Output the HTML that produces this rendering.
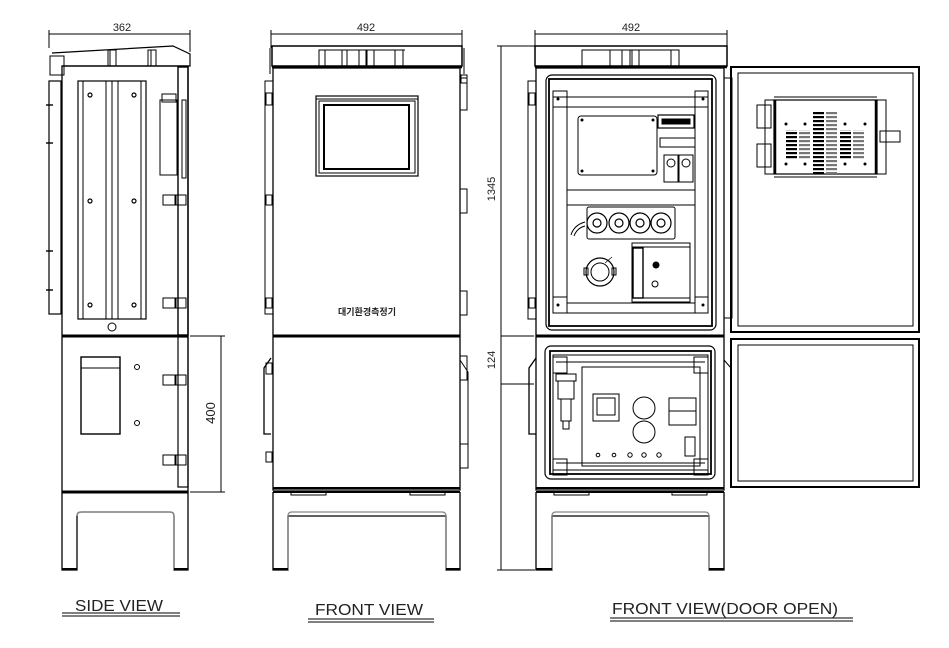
<!DOCTYPE html>
<html><head><meta charset="utf-8"><style>
html,body{margin:0;padding:0;background:#fff;width:949px;height:648px;overflow:hidden}
svg{display:block}
text{font-family:"Liberation Sans","Noto Sans CJK KR",sans-serif;fill:#222}
</style></head><body>
<svg width="949" height="648" viewBox="0 0 949 648" xmlns="http://www.w3.org/2000/svg" fill="none" stroke="#000" stroke-width="1">
<defs>
<pattern id="vent" width="4" height="4" patternUnits="userSpaceOnUse"><rect width="4" height="2.2" fill="#000" stroke="none"/></pattern>
<pattern id="vent2" width="4" height="4" patternUnits="userSpaceOnUse"><rect width="4" height="2.2" fill="#777" stroke="none"/></pattern>
</defs>

<!-- ================= SIDE VIEW ================= -->
<text x="122" y="31" font-size="11" text-anchor="middle" stroke="none">362</text>
<line x1="49" y1="34" x2="190" y2="34"/><line x1="49" y1="30" x2="49" y2="48"/><line x1="190" y1="30" x2="190" y2="52"/>
<!-- cap -->
<path d="M52 53 L173 46 L190 54 L190 66 L62 66" stroke-width="1.2"/>
<rect x="50" y="56" width="14" height="19"/>
<rect x="108" y="50" width="8" height="16"/><rect x="148" y="50" width="8" height="16"/>
<line x1="110" y1="50" x2="110" y2="66"/><line x1="151" y1="50" x2="151" y2="66"/>
<!-- body -->
<rect x="62" y="66" width="126" height="426" stroke-width="1.3"/>
<rect x="49" y="81" width="12" height="233" stroke-width="1.2"/>
<g stroke-width="1.4"><line x1="46" y1="105" x2="53" y2="105"/><line x1="46" y1="143" x2="53" y2="143"/><line x1="46" y1="251" x2="53" y2="251"/><line x1="46" y1="290" x2="53" y2="290"/></g>
<rect x="78" y="81" width="68" height="238" stroke-width="1.2"/>
<line x1="83" y1="81" x2="83" y2="319"/><line x1="106" y1="81" x2="106" y2="319"/><line x1="112" y1="81" x2="112" y2="319"/><line x1="118" y1="81" x2="118" y2="319"/><line x1="141" y1="81" x2="141" y2="319"/>
<g stroke-width="1.2"><circle cx="90" cy="95" r="2"/><circle cx="134" cy="95" r="2"/><circle cx="90" cy="201" r="2"/><circle cx="134" cy="201" r="2"/><circle cx="90" cy="305" r="2"/><circle cx="134" cy="305" r="2"/></g>
<circle cx="112" cy="327" r="4"/>
<rect x="178" y="67" width="10" height="268" stroke-width="1.4"/>
<rect x="160" y="100" width="17" height="75"/><rect x="162" y="94" width="14" height="8"/>
<rect x="182" y="100" width="4" height="78"/>
<g><rect x="163" y="195" width="12" height="10"/><rect x="176" y="195" width="10" height="10"/><rect x="163" y="298" width="12" height="10"/><rect x="176" y="298" width="10" height="10"/>
<rect x="163" y="375" width="12" height="10"/><rect x="176" y="375" width="10" height="10"/><rect x="163" y="455" width="12" height="10"/><rect x="176" y="455" width="10" height="10"/></g>
<line x1="62" y1="336" x2="188" y2="336" stroke-width="3"/>
<rect x="178" y="337" width="10" height="150" stroke-width="1.2"/>
<rect x="81" y="357" width="39" height="77" stroke-width="1.4"/><line x1="81" y1="368" x2="120" y2="368"/>
<circle cx="137" cy="367" r="2.5"/><circle cx="137" cy="423" r="2.5"/>
<line x1="62" y1="492" x2="188" y2="492" stroke-width="3"/>
<!-- legs -->
<path d="M62 492 L62 570 L77 570 L77 516 Q77 512 81 512 L170 512 Q174 512 174 516 L174 570 L188 570 L188 492" stroke-width="1.3"/>
<path d="M77 516 Q77 512 81 512 L170 512 Q174 512 174 516 L174 570" stroke="#888" stroke-width="1.3"/>
<line x1="62" y1="569" x2="77" y2="569" stroke-width="2"/><line x1="174" y1="569" x2="188" y2="569" stroke-width="2"/>
<!-- dim 400 -->
<line x1="221" y1="336" x2="221" y2="492"/><line x1="190" y1="336" x2="225" y2="336"/><line x1="190" y1="492" x2="225" y2="492"/>
<text x="0" y="0" font-size="13" text-anchor="middle" stroke="none" transform="translate(215 413) rotate(-90)">400</text>

<!-- ================= FRONT VIEW ================= -->
<text x="366" y="31" font-size="11" text-anchor="middle" stroke="none">492</text>
<line x1="271" y1="34" x2="462" y2="34"/><line x1="271" y1="30" x2="271" y2="48"/><line x1="462" y1="30" x2="462" y2="48"/>
<rect x="272" y="46" width="190" height="20" stroke-width="1.5"/>
<line x1="270" y1="48" x2="270" y2="74"/><line x1="464" y1="48" x2="464" y2="74"/>
<line x1="272" y1="67" x2="462" y2="67" stroke-width="2.5"/>
<rect x="319" y="50" width="28" height="16"/><rect x="367" y="50" width="7" height="16"/><rect x="395" y="50" width="8" height="16"/><rect x="359" y="50" width="7" height="16"/>
<line x1="319" y1="50" x2="405" y2="50"/><line x1="325" y1="50" x2="325" y2="66"/><line x1="342" y1="50" x2="342" y2="66"/>
<rect x="273" y="68" width="187" height="422" stroke-width="1.3"/>
<rect x="265" y="81" width="8" height="233"/><rect x="266" y="93" width="6" height="12"/><rect x="266" y="195" width="6" height="10"/><rect x="266" y="298" width="6" height="10"/>
<rect x="460" y="78" width="7" height="32"/><rect x="461" y="75" width="6" height="8"/>
<rect x="460" y="189" width="7" height="24"/><rect x="460" y="291" width="7" height="24"/>
<rect x="316" y="96" width="102" height="80" stroke-width="1.2"/><line x1="316" y1="99" x2="418" y2="99"/>
<rect x="319" y="101" width="96" height="72"/>
<rect x="324" y="105" width="85" height="64" stroke-width="2"/>
<text x="367" y="315" font-size="9" font-weight="bold" text-anchor="middle" stroke="none">대기환경측정기</text>
<line x1="273" y1="336" x2="460" y2="336" stroke-width="3"/>
<path d="M271 358 L264 368 L264 434 L271 434" stroke-width="1.3"/><rect x="266" y="363" width="6" height="11"/>
<rect x="266" y="452" width="6" height="10"/>
<path d="M460 356 L467 356 L467 380 L460 380"/><path d="M460 360 L468 372 L468 444" /><path d="M460 444 L468 444 L468 468 L460 468"/>
<line x1="273" y1="488" x2="460" y2="488" stroke-width="2"/><line x1="273" y1="492" x2="460" y2="492" stroke-width="2"/>
<rect x="291" y="492" width="35" height="3"/><rect x="410" y="492" width="35" height="3"/>
<path d="M273 492 L273 570 L288 570 L288 516 L446 516 L446 570 L460 570 L460 492" stroke-width="1.3"/>
<path d="M288 570 L288 516 Q288 512 292 512 L442 512 Q446 512 446 516 L446 570" stroke="#888" stroke-width="1.3"/>
<line x1="273" y1="569" x2="288" y2="569" stroke-width="2"/><line x1="446" y1="569" x2="460" y2="569" stroke-width="2"/>

<!-- ================= DOOR OPEN ================= -->
<text x="631" y="31" font-size="11" text-anchor="middle" stroke="none">492</text>
<line x1="535" y1="34" x2="727" y2="34"/><line x1="535" y1="30" x2="535" y2="48"/><line x1="727" y1="30" x2="727" y2="48"/>
<!-- 1345 -->
<line x1="501" y1="46" x2="501" y2="570"/><line x1="497" y1="46" x2="535" y2="46"/><line x1="497" y1="570" x2="535" y2="570"/>
<text font-size="11" text-anchor="middle" stroke="none" transform="translate(495 189) rotate(-90)">1345</text>
<line x1="501" y1="336" x2="534" y2="336"/><line x1="501" y1="384" x2="534" y2="384"/>
<text font-size="11" text-anchor="middle" stroke="none" transform="translate(495 360) rotate(-90)">124</text>
<rect x="535" y="46" width="192" height="20" stroke-width="1.5"/>
<line x1="535" y1="67" x2="727" y2="67" stroke-width="2.5"/>
<rect x="582" y="50" width="28" height="16"/><rect x="622" y="50" width="8" height="16"/><rect x="632" y="50" width="7" height="16"/><rect x="671" y="50" width="8" height="16"/>
<line x1="582" y1="50" x2="679" y2="50"/>
<rect x="536" y="68" width="188" height="422" stroke-width="1.3"/>
<rect x="528" y="81" width="8" height="238"/><rect x="529" y="93" width="6" height="12"/><rect x="529" y="298" width="6" height="10"/>
<rect x="724" y="78" width="8" height="240"/>
<rect x="546" y="75" width="170" height="255" rx="6" stroke-width="1.2"/>
<rect x="549" y="79" width="163" height="247" stroke-width="1.8"/>
<rect x="553" y="91" width="14" height="222"/><rect x="695" y="91" width="13" height="222"/>
<line x1="553" y1="97" x2="708" y2="97"/><line x1="567" y1="107" x2="695" y2="107"/>
<line x1="567" y1="303" x2="695" y2="303"/><line x1="553" y1="313" x2="708" y2="313"/>
<rect x="553" y="91" width="14" height="16"/><rect x="695" y="91" width="13" height="16"/><rect x="553" y="297" width="14" height="16"/><rect x="695" y="297" width="13" height="16"/>
<g fill="#000" stroke="none"><circle cx="558" cy="99" r="1.5"/><circle cx="703" cy="99" r="1.5"/><circle cx="558" cy="305" r="1.5"/><circle cx="703" cy="305" r="1.5"/></g>
<line x1="567" y1="190" x2="695" y2="190"/><line x1="567" y1="205" x2="695" y2="205"/>
<rect x="578" y="116" width="79" height="59" rx="3"/>
<g fill="#000" stroke="none"><circle cx="582" cy="120" r="1.5"/><circle cx="653" cy="120" r="1.5"/><circle cx="582" cy="171" r="1.5"/><circle cx="653" cy="171" r="1.5"/></g>
<rect x="658" y="115" width="36" height="13" stroke-width="1.2"/><rect x="662" y="119" width="28" height="5" fill="#000"/>
<rect x="660" y="138" width="35" height="9"/>
<rect x="664" y="155" width="14" height="27"/><rect x="679" y="155" width="14" height="27"/>
<circle cx="671" cy="163" r="4"/><circle cx="686" cy="163" r="4"/>
<rect x="587" y="207" width="88" height="32" rx="2"/>
<g stroke-width="1.2"><circle cx="597" cy="223" r="10"/><circle cx="619" cy="223" r="10"/><circle cx="640" cy="223" r="10"/><circle cx="661" cy="223" r="10"/>
<circle cx="597" cy="223" r="4"/><circle cx="619" cy="223" r="4"/><circle cx="640" cy="223" r="4"/><circle cx="661" cy="223" r="4"/></g>
<path d="M571 235 Q574 225 585 222"/><path d="M574 236 Q577 228 585 226"/>
<circle cx="600" cy="272" r="14" stroke-width="1.2"/><circle cx="600" cy="272" r="9"/>
<rect x="584" y="268" width="4" height="7"/><rect x="612" y="268" width="4" height="7"/>
<line x1="605" y1="263" x2="612" y2="257" stroke-width="0.6"/>
<rect x="632" y="243" width="58" height="59"/><rect x="633" y="248" width="10" height="50" stroke-width="1.4"/>
<line x1="632" y1="247" x2="690" y2="247"/><line x1="632" y1="298" x2="690" y2="298"/>
<circle cx="656" cy="265" r="3" fill="#000"/><circle cx="655" cy="284" r="3"/>
<line x1="536" y1="336" x2="724" y2="336" stroke-width="3"/>
<!-- lower -->
<path d="M536 358 L529 368 L529 434 L536 434" stroke-width="1.3"/>
<rect x="545" y="346" width="170" height="133" rx="6" stroke-width="1.2"/>
<rect x="550" y="351" width="161" height="123" stroke-width="1.8"/>
<rect x="553" y="355" width="155" height="115"/>
<line x1="556" y1="362" x2="705" y2="362"/><line x1="556" y1="463" x2="705" y2="463"/>
<rect x="553" y="357" width="14" height="16"/><rect x="694" y="357" width="14" height="16"/><rect x="553" y="459" width="14" height="16"/><rect x="694" y="459" width="14" height="16"/>
<rect x="582" y="367" width="118" height="99"/>
<rect x="556" y="374" width="20" height="7"/><rect x="558" y="381" width="16" height="18"/><rect x="561" y="399" width="10" height="22"/><rect x="563" y="421" width="6" height="8"/>
<rect x="593" y="394" width="26" height="27"/><rect x="597" y="398" width="18" height="17"/>
<circle cx="644" cy="408" r="11"/><circle cx="644" cy="432" r="11"/>
<rect x="669" y="398" width="27" height="27"/><line x1="669" y1="411" x2="696" y2="411"/>
<rect x="685" y="437" width="10" height="19"/>
<circle cx="598" cy="455" r="1.8"/><circle cx="614" cy="455" r="1.8"/><circle cx="630" cy="455" r="2.2"/><circle cx="644" cy="455" r="2.2"/><circle cx="659" cy="455" r="2.2"/>
<line x1="536" y1="488" x2="724" y2="488" stroke-width="2"/><line x1="536" y1="492" x2="724" y2="492" stroke-width="2"/>
<rect x="554" y="492" width="35" height="3"/><rect x="672" y="492" width="35" height="3"/>
<path d="M536 492 L536 570 L552 570 L552 516 L709 516 L709 570 L724 570 L724 492" stroke-width="1.3"/>
<path d="M552 570 L552 516 Q552 512 556 512 L705 512 Q709 512 709 516 L709 570" stroke="#888" stroke-width="1.3"/>
<line x1="536" y1="569" x2="552" y2="569" stroke-width="2"/><line x1="709" y1="569" x2="724" y2="569" stroke-width="2"/>
<!-- open doors -->
<rect x="731" y="67" width="188" height="265" stroke-width="2"/>
<rect x="738" y="73" width="175" height="253"/>
<rect x="731" y="339" width="188" height="148" stroke-width="2"/>
<rect x="738" y="345" width="175" height="136"/>
<path d="M724 360 L731 368 L731 434"/>
<!-- fan -->
<rect x="774" y="100" width="103" height="74" stroke-width="1.2"/><line x1="774" y1="97" x2="877" y2="97"/><line x1="774" y1="177" x2="877" y2="177"/>
<rect x="765" y="100" width="9" height="74"/><rect x="877" y="100" width="9" height="74"/>
<line x1="775" y1="100" x2="775" y2="174" stroke-width="2.5"/><line x1="876" y1="100" x2="876" y2="174" stroke-width="2.5"/>
<rect x="757" y="105" width="14" height="23"/><rect x="757" y="144" width="14" height="23"/>
<rect x="880" y="131" width="20" height="11"/>
<rect x="786" y="130" width="11" height="30" fill="url(#vent)" stroke="none"/><rect x="799" y="130" width="11" height="30" fill="url(#vent2)" stroke="none"/>
<rect x="813" y="112" width="11" height="62" fill="url(#vent)" stroke="none"/><rect x="826" y="112" width="11" height="62" fill="url(#vent2)" stroke="none"/>
<rect x="840" y="130" width="11" height="30" fill="url(#vent)" stroke="none"/><rect x="853" y="130" width="11" height="30" fill="url(#vent2)" stroke="none"/>
<g fill="#000" stroke="none"><circle cx="786" cy="124" r="1.5"/><circle cx="805" cy="124" r="1.5"/><circle cx="845" cy="124" r="1.5"/><circle cx="865" cy="124" r="1.5"/><circle cx="786" cy="164" r="1.5"/><circle cx="805" cy="164" r="1.5"/><circle cx="845" cy="164" r="1.5"/><circle cx="865" cy="164" r="1.5"/></g>

<!-- labels -->
<text x="119" y="611" font-size="16" text-anchor="middle" stroke="none" transform="scale(1 1)" textLength="88" lengthAdjust="spacingAndGlyphs">SIDE VIEW</text>
<line x1="62" y1="613" x2="180" y2="613"/><line x1="62" y1="616" x2="180" y2="616"/>
<text x="369" y="615" font-size="16" text-anchor="middle" stroke="none" textLength="108" lengthAdjust="spacingAndGlyphs">FRONT VIEW</text>
<line x1="308" y1="619" x2="434" y2="619"/><line x1="308" y1="622" x2="434" y2="622"/>
<text x="725" y="614" font-size="16" text-anchor="middle" stroke="none" textLength="226" lengthAdjust="spacingAndGlyphs">FRONT VIEW(DOOR OPEN)</text>
<line x1="610" y1="618" x2="853" y2="618"/><line x1="610" y1="621" x2="853" y2="621"/>
</svg>
</body></html>
